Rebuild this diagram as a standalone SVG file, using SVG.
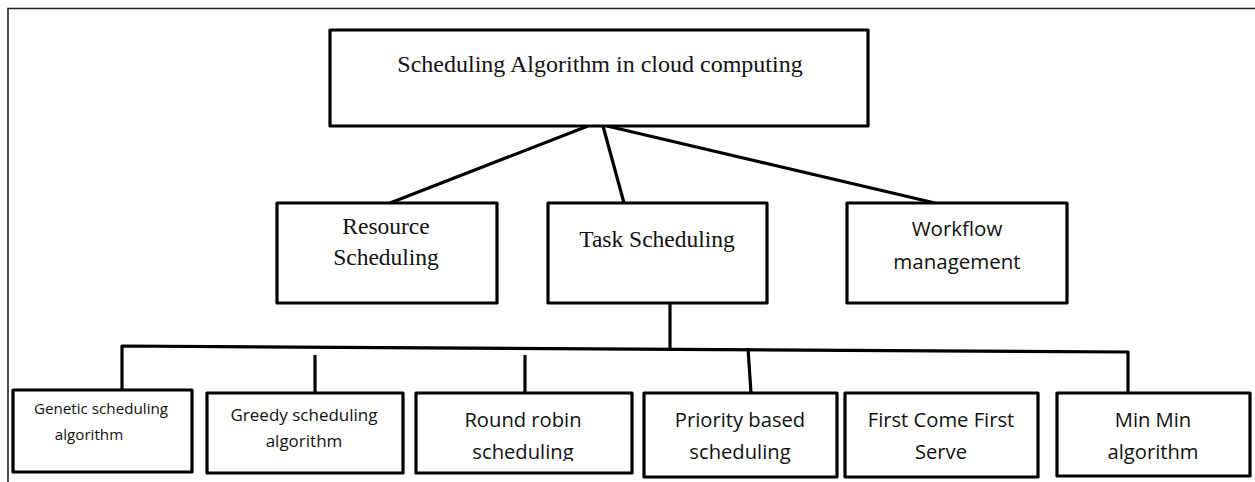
<svg xmlns="http://www.w3.org/2000/svg" width="1255" height="482" viewBox="0 0 1255 482">
  <style>
    .box { fill: #fff; stroke: #000; stroke-width: 3.2; stroke-linejoin: round; }
    .serif { font-family: "Liberation Serif", "Times New Roman", serif; fill: #111; text-anchor: middle; }
    .sans { font-family: "Open Sans", "Liberation Sans", sans-serif; fill: #111; text-anchor: middle; }
    .wire { fill: none; stroke: #000; stroke-width: 3.2; stroke-linecap: butt; stroke-linejoin: round; }
    .frame { fill: none; stroke: #222; stroke-width: 1.6; }
  </style>
  <defs>
    <clipPath id="rr-clip"><rect x="416" y="393" width="216" height="68"/></clipPath>
  </defs>
  <rect width="1255" height="482" fill="#fff"/>

  <!-- page frame -->
  <path class="frame" d="M8,482 V8.5 H1255"/>

  <!-- connectors -->
  <g id="connectors">
    <line class="wire" x1="588" y1="126" x2="390" y2="203"/>
    <line class="wire" x1="603" y1="126" x2="624" y2="203"/>
    <line class="wire" x1="607" y1="126" x2="935" y2="203"/>
    <line class="wire" x1="670" y1="303" x2="670" y2="351"/>
    <path class="wire" d="M122,391 V346 L1128,352 V393"/>
    <line class="wire" x1="315" y1="355" x2="315" y2="393"/>
    <line class="wire" x1="525" y1="355" x2="525" y2="393"/>
    <line class="wire" x1="748" y1="348" x2="751" y2="393"/>
  </g>

  <g id="root">
    <rect class="box" x="330" y="30" width="538" height="96"/>
    <text class="serif" x="600" y="72" font-size="24">Scheduling Algorithm in cloud computing</text>
  </g>

  <g id="resource">
    <rect class="box" x="277" y="203" width="220" height="100"/>
    <text class="serif" x="386" y="234" font-size="23.5">Resource</text>
    <text class="serif" x="386" y="265" font-size="23.5">Scheduling</text>
  </g>

  <g id="task">
    <rect class="box" x="548" y="203" width="219" height="100"/>
    <text class="serif" x="657" y="247" font-size="23.5">Task Scheduling</text>
  </g>

  <g id="workflow">
    <rect class="box" x="847" y="203" width="220" height="100"/>
    <text class="sans" x="957" y="236" font-size="20.5">Workflow</text>
    <text class="sans" x="957" y="269" font-size="20.5">management</text>
  </g>

  <g id="genetic">
    <rect class="box" x="13" y="390" width="179" height="82"/>
    <text class="sans" x="101" y="414" font-size="15.2">Genetic scheduling</text>
    <text class="sans" x="89" y="440" font-size="15.2">algorithm</text>
  </g>

  <g id="greedy">
    <rect class="box" x="207" y="393" width="196" height="80"/>
    <text class="sans" x="304" y="421" font-size="17">Greedy scheduling</text>
    <text class="sans" x="304" y="447" font-size="17">algorithm</text>
  </g>

  <g id="round-robin">
    <rect class="box" x="416" y="393" width="216" height="80"/>
    <text class="sans" x="523" y="427" font-size="20.2">Round robin</text>
    <text class="sans" x="523" y="459" font-size="20.2" clip-path="url(#rr-clip)">scheduling</text>
  </g>

  <g id="priority">
    <rect class="box" x="644" y="393" width="193" height="84"/>
    <text class="sans" x="740" y="427" font-size="20.2">Priority based</text>
    <text class="sans" x="740" y="459" font-size="20.2">scheduling</text>
  </g>

  <g id="fcfs">
    <rect class="box" x="845" y="393" width="193" height="84"/>
    <text class="sans" x="941" y="427" font-size="20.2">First Come First</text>
    <text class="sans" x="941" y="459" font-size="20.2">Serve</text>
  </g>

  <g id="minmin">
    <rect class="box" x="1057" y="393" width="193" height="83"/>
    <text class="sans" x="1153" y="427" font-size="20.2">Min Min</text>
    <text class="sans" x="1153" y="459" font-size="20.2">algorithm</text>
  </g>
</svg>
